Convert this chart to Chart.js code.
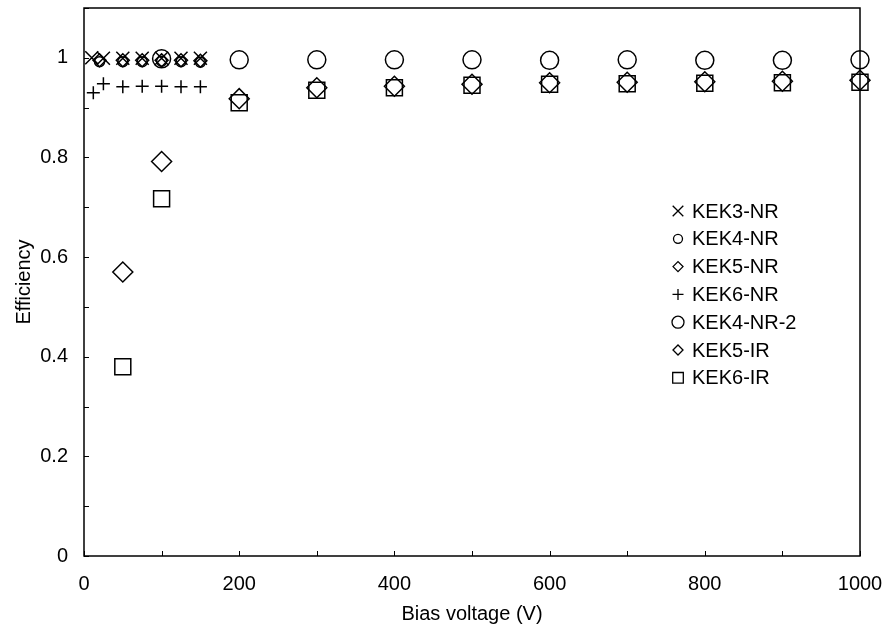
<!DOCTYPE html>
<html>
<head>
<meta charset="utf-8">
<script src="https://cdn.jsdelivr.net/npm/chart.js@4/dist/chart.umd.min.js"></script>
<style>
  html, body { margin: 0; padding: 0; background: #fff; }
  #chart { display: block; }
</style>
</head>
<body>
<canvas id="chart" width="885" height="627"></canvas>
<script>
// data
const seriesNames = ['KEK3-NR', 'KEK4-NR', 'KEK5-NR', 'KEK6-NR', 'KEK4-NR-2', 'KEK5-IR', 'KEK6-IR'];

const kek3nrVolts = [10, 25, 50, 75, 100, 125, 150];
const kek3nrEff   = [1.0, 0.999, 0.999, 0.999, 0.999, 0.999, 0.999];

const kek4nrVolts = [20, 50, 75, 100, 125, 150];
const kek4nrEff   = [0.992, 0.992, 0.992, 0.993, 0.992, 0.991];

const kek5nrVolts = [20, 50, 75, 100, 125, 150];
const kek5nrEff   = [0.995, 0.995, 0.995, 0.995, 0.995, 0.994];

const kek6nrVolts = [12, 25, 50, 75, 100, 125, 150];
const kek6nrEff   = [0.93, 0.948, 0.942, 0.943, 0.943, 0.942, 0.942];

const irVolts     = [100, 200, 300, 400, 500, 600, 700, 800, 900, 1000];
const kek4nr2Eff  = [0.998, 0.996, 0.996, 0.996, 0.996, 0.995, 0.996, 0.995, 0.995, 0.996];

const kek5irVolts = [50, 100, 200, 300, 400, 500, 600, 700, 800, 900, 1000];
const kek5irEff   = [0.57, 0.792, 0.918, 0.94, 0.943, 0.947, 0.95, 0.951, 0.952, 0.953, 0.955];

const kek6irVolts = [50, 100, 200, 300, 400, 500, 600, 700, 800, 900, 1000];
const kek6irEff   = [0.38, 0.717, 0.91, 0.935, 0.94, 0.945, 0.947, 0.948, 0.949, 0.95, 0.951];

const xTickLabels = [0, 200, 400, 600, 800, 1000];
const yTickLabels = [0, 0.2, 0.4, 0.6, 0.8, 1];

function pts(xs, ys) {
    return xs.map(function(v, i) { return { x: v, y: ys[i] }; });
}

const FONT = "'Liberation Sans', Arial, sans-serif";

const styles = ['crossRot', 'circle', 'rectRot', 'cross', 'circle', 'rectRot', 'rect'];
const radii  = [9.2, 5, 6.5, 6.5, 9, 10, 11.3];
const legendRadii = [7.5, 4.5, 5, 5.5, 6, 5, 7.5];
const allData = [
    pts(kek3nrVolts, kek3nrEff),
    pts(kek4nrVolts, kek4nrEff),
    pts(kek5nrVolts, kek5nrEff),
    pts(kek6nrVolts, kek6nrEff),
    pts(irVolts, kek4nr2Eff),
    pts(kek5irVolts, kek5irEff),
    pts(kek6irVolts, kek6irEff)
];

const datasets = seriesNames.map(function(name, i) {
    return {
        label: name,
        data: allData[i],
        showLine: false,
        clip: false,
        pointStyle: styles[i],
        pointRadius: radii[i],
        pointBorderColor: '#000',
        pointBackgroundColor: 'rgba(0,0,0,0)',
        pointBorderWidth: 1.5
    };
});

// simple marker drawing for the legend (same geometry as chart.js)
function marker(ctx, style, r, x, y) {
    ctx.beginPath();
    if (style === 'circle') {
        ctx.arc(x, y, r, 0, Math.PI * 2);
    } else if (style === 'rect') {
        const s = r * Math.SQRT1_2;
        ctx.rect(x - s, y - s, 2 * s, 2 * s);
    } else if (style === 'rectRot') {
        ctx.moveTo(x - r, y); ctx.lineTo(x, y - r); ctx.lineTo(x + r, y); ctx.lineTo(x, y + r); ctx.closePath();
    } else if (style === 'cross') {
        ctx.moveTo(x - r, y); ctx.lineTo(x + r, y); ctx.moveTo(x, y - r); ctx.lineTo(x, y + r);
    } else if (style === 'crossRot') {
        const s = r * Math.SQRT1_2;
        ctx.moveTo(x - s, y - s); ctx.lineTo(x + s, y + s); ctx.moveTo(x - s, y + s); ctx.lineTo(x + s, y - s);
    }
    ctx.stroke();
}

const framePlugin = {
    id: 'frame',
    afterDraw(chart) {
        const ctx = chart.ctx;
        const a = chart.chartArea;
        const xs = chart.scales.x, ys = chart.scales.y;
        ctx.save();
        ctx.strokeStyle = '#000';
        ctx.lineWidth = 1.5;
        ctx.strokeRect(a.left, a.top, a.right - a.left, a.bottom - a.top);
        // inward ticks
        ctx.lineWidth = 1;
        ctx.beginPath();
        xs.ticks.forEach(function(t) {
            const px = Math.round(xs.getPixelForValue(t.value)) + 0.5;
            ctx.moveTo(px, a.bottom); ctx.lineTo(px, a.bottom - 5);
        });
        ys.ticks.forEach(function(t) {
            const py = Math.round(ys.getPixelForValue(t.value)) + 0.5;
            ctx.moveTo(a.left, py); ctx.lineTo(a.left + 5, py);
        });
        ctx.stroke();

        // legend inside the plot
        ctx.lineWidth = 1.3;
        ctx.fillStyle = '#000';
        ctx.font = '20px ' + FONT;
        ctx.textBaseline = 'middle';
        ctx.textAlign = 'left';
        chart.data.datasets.forEach(function(ds, i) {
            const ly = 211 + i * 27.8;
            marker(ctx, ds.pointStyle, legendRadii[i], 678, ly);
            ctx.fillText(ds.label, 692, ly + 1);
        });
        ctx.restore();
    }
};

new Chart(document.getElementById('chart').getContext('2d'), {
    type: 'scatter',
    data: { datasets: datasets },
    options: {
        responsive: false,
        animation: false,
        layout: { autoPadding: false, padding: { top: 8, right: 25, left: 0, bottom: 0 } },
        plugins: {
            legend: { display: false },
            tooltip: { enabled: false }
        },
        scales: {
            x: {
                type: 'linear',
                min: 0,
                max: 1000,
                grid: { display: false, drawTicks: false },
                border: { display: false },
                ticks: {
                    stepSize: 100,
                    padding: 16,
                    color: '#000',
                    font: { family: FONT, size: 20 },
                    maxRotation: 0,
                    autoSkip: false,
                    callback: function(v) { return xTickLabels.indexOf(v) >= 0 ? String(v) : ''; }
                },
                title: {
                    display: true,
                    text: 'Bias voltage (V)',
                    color: '#000',
                    font: { family: FONT, size: 20 },
                    padding: { top: 0, bottom: 1 }
                },
                afterFit: function(s) {
                    s.height = 71;
                    s.paddingLeft = 0; s.paddingRight = 0;
                }
            },
            y: {
                type: 'linear',
                min: 0,
                max: 1.1,
                grid: { display: false, drawTicks: false },
                border: { display: false },
                ticks: {
                    stepSize: 0.1,
                    padding: 16,
                    color: '#000',
                    font: { family: FONT, size: 20 },
                    autoSkip: false,
                    callback: function(v) {
                        const r = Math.round(v * 10) / 10;
                        return yTickLabels.indexOf(r) >= 0 ? String(r) : '';
                    }
                },
                title: {
                    display: true,
                    text: 'Efficiency',
                    color: '#000',
                    font: { family: FONT, size: 20 },
                    padding: { top: 12, bottom: 0 }
                },
                afterFit: function(s) {
                    s.width = 84;
                    s.paddingTop = 0; s.paddingBottom = 0;
                }
            }
        }
    },
    plugins: [framePlugin]
});
</script>
</body>
</html>
